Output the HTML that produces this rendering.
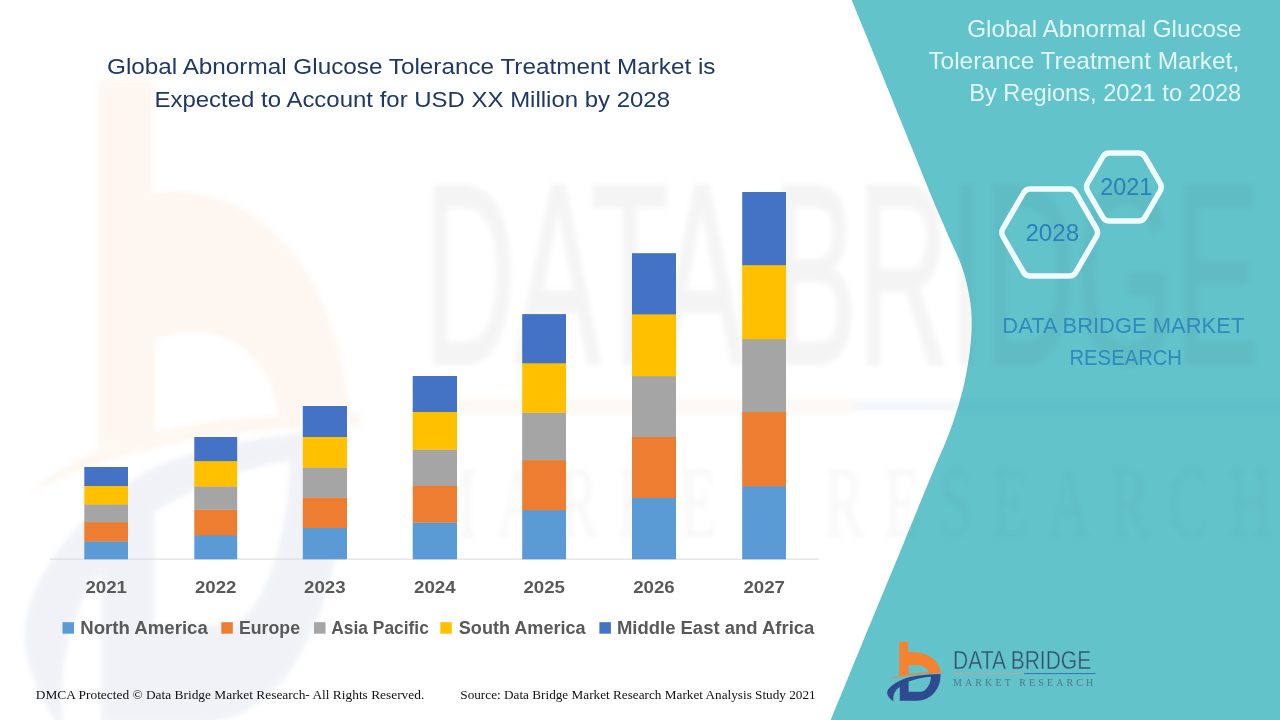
<!DOCTYPE html>
<html lang="en"><head><meta charset="utf-8"><title>Global Abnormal Glucose Tolerance Treatment Market</title>
<style>
html,body{margin:0;padding:0;background:#fff;}
body{width:1280px;height:720px;overflow:hidden;}
svg{display:block;}
text{font-family:"Liberation Sans",sans-serif;}
.ttl{font-size:22.4px;fill:#1f3864;}
.rt{font-size:23.8px;fill:#e3f6f7;}
.yr{font-size:16.6px;font-weight:bold;fill:#595959;}
.lg{font-size:18px;font-weight:bold;fill:#595959;}
.hx{font-size:23.4px;fill:#2b80b9;}
.db{font-size:22.4px;fill:#2f8bbd;}
.lt1{font-size:24.9px;fill:#34506a;}
.lt2{font-family:"Liberation Serif",serif;font-size:9.9px;fill:#4f6878;fill-opacity:.8;}
.wm{fill:#444;}
.ft{font-family:"Liberation Serif",serif;font-size:13.3px;fill:#111;}
</style></head><body>
<svg width="1280" height="720" viewBox="0 0 1280 720">
<defs>
<filter id="bl" x="-5%" y="-5%" width="110%" height="110%"><feGaussianBlur stdDeviation="2.5"/></filter>
</defs>
<rect width="1280" height="720" fill="#ffffff"/>
<!-- teal panel -->
<path d="M851.7,0.0 C854.1,5.8 861.2,23.3 866.0,35.0 C870.8,46.7 875.5,58.3 880.2,70.0 C884.9,81.7 889.7,93.3 894.4,105.0 C899.1,116.7 904.2,129.2 908.6,140.0 C913.0,150.8 916.7,160.0 920.8,170.0 C924.9,180.0 928.5,189.2 933.0,200.0 C937.5,210.8 943.2,223.8 948.0,235.0 C952.8,246.2 958.4,256.7 962.0,267.0 C965.6,277.3 967.9,287.8 969.5,297.0 C971.1,306.2 971.6,313.2 971.7,322.0 C971.8,330.8 971.1,340.3 970.0,350.0 C968.9,359.7 966.7,371.7 965.0,380.0 C963.3,388.3 961.9,393.2 960.0,400.0 C958.1,406.8 955.8,414.3 953.5,421.0 C951.2,427.7 949.6,432.3 946.5,440.0 C943.4,447.7 940.1,454.8 935.0,467.0 C929.9,479.2 921.9,498.7 916.0,513.0 C910.1,527.3 905.1,539.7 899.6,553.0 C894.1,566.3 888.6,579.5 883.0,593.0 C877.4,606.5 871.6,620.5 866.0,634.0 C860.4,647.5 855.5,659.7 849.6,674.0 C843.7,688.3 833.9,712.3 830.8,720.0 L1280,720 L1280,0 Z" fill="#62c3cb"/>
<!-- watermark -->
<g opacity="0.068" filter="url(#bl)">
<g transform="translate(24,78) scale(6.05,10.9) translate(-887,-641.6)">

<path d="M899.3,641.8 L908.1,641.8 L908.1,652.2 C922,651 938,656.5 940.9,672.7 L929.2,673 C928,667 920,663.3 908.6,665.6 L908.6,674.4 L899.3,675.6 Z" fill="#f5822f"/>
<path d="M887.6,679.8 C900,673.6 922,672.2 942.6,672.5 L942.6,673.5 C922,673.5 902,675.4 887.6,679.8 Z" fill="#f5822f"/>
<path d="M893.5,701.6 C889,698 886.5,695 887.3,691.3 C889,686 900,679 911.3,676.7 C921,674.8 931,674.1 940.4,674 C941,682 938,690 931,696 C926,699.6 921,700.7 916.5,700.7 L899.8,700.7 L899.8,687 C895,690 892.5,695 893.5,701.6 Z M908.6,681.4 C916,678.8 924,677.3 931,676.7 C930.5,684 927,690 921.7,691.8 L908.6,691.8 Z" fill="#2f4b8f" fill-rule="evenodd"/>

</g>
</g>
<g opacity="0.05" filter="url(#bl)">
<g transform="translate(24,78) scale(6.05,10.26) translate(-887,-641.6)">

<text class="lt1 wm" x="953.1" y="669.4" textLength="138.1" lengthAdjust="spacingAndGlyphs" stroke="#444" stroke-width="0.45" paint-order="fill stroke">DATA BRIDGE</text>
<rect x="953" y="672.8" width="71" height="1.5" fill="#e08a4a"/>
<rect x="1024" y="673" width="71.6" height="1.1" fill="#3a7ab0"/>
<text class="lt2 wm" x="953.1" y="686.3" textLength="140" lengthAdjust="spacing">MARKET RESEARCH</text>

</g>
</g>
<!-- chart -->
<rect x="50" y="558.6" width="769" height="1" fill="#d9d9d9"/>
<rect x="84.3" y="541.2" width="43.7" height="18.1" fill="#5b9bd5"/>
<rect x="84.3" y="522.0" width="43.7" height="19.5" fill="#ed7d31"/>
<rect x="84.3" y="504.2" width="43.7" height="18.1" fill="#a5a5a5"/>
<rect x="84.3" y="485.7" width="43.7" height="18.8" fill="#ffc000"/>
<rect x="84.3" y="467.0" width="43.7" height="19.0" fill="#4472c4"/>
<text class="yr" x="85.4" y="592.6" textLength="41.5" lengthAdjust="spacingAndGlyphs">2021</text>
<rect x="194.3" y="535.0" width="42.9" height="24.3" fill="#5b9bd5"/>
<rect x="194.3" y="509.5" width="42.9" height="25.8" fill="#ed7d31"/>
<rect x="194.3" y="486.2" width="42.9" height="23.6" fill="#a5a5a5"/>
<rect x="194.3" y="460.8" width="42.9" height="25.7" fill="#ffc000"/>
<rect x="194.3" y="437.0" width="42.9" height="24.1" fill="#4472c4"/>
<text class="yr" x="195.0" y="592.6" textLength="41.5" lengthAdjust="spacingAndGlyphs">2022</text>
<rect x="302.8" y="527.7" width="44.2" height="31.6" fill="#5b9bd5"/>
<rect x="302.8" y="497.3" width="44.2" height="30.7" fill="#ed7d31"/>
<rect x="302.8" y="467.3" width="44.2" height="30.3" fill="#a5a5a5"/>
<rect x="302.8" y="436.7" width="44.2" height="30.9" fill="#ffc000"/>
<rect x="302.8" y="406.0" width="44.2" height="31.0" fill="#4472c4"/>
<text class="yr" x="304.1" y="592.6" textLength="41.5" lengthAdjust="spacingAndGlyphs">2023</text>
<rect x="412.7" y="522.3" width="44.3" height="37.0" fill="#5b9bd5"/>
<rect x="412.7" y="485.7" width="44.3" height="36.9" fill="#ed7d31"/>
<rect x="412.7" y="449.3" width="44.3" height="36.7" fill="#a5a5a5"/>
<rect x="412.7" y="411.7" width="44.3" height="37.9" fill="#ffc000"/>
<rect x="412.7" y="376.0" width="44.3" height="36.0" fill="#4472c4"/>
<text class="yr" x="414.1" y="592.6" textLength="41.5" lengthAdjust="spacingAndGlyphs">2024</text>
<rect x="522.2" y="510.0" width="43.8" height="49.3" fill="#5b9bd5"/>
<rect x="522.2" y="460.0" width="43.8" height="50.3" fill="#ed7d31"/>
<rect x="522.2" y="412.4" width="43.8" height="47.9" fill="#a5a5a5"/>
<rect x="522.2" y="363.0" width="43.8" height="49.7" fill="#ffc000"/>
<rect x="522.2" y="314.1" width="43.8" height="49.2" fill="#4472c4"/>
<text class="yr" x="523.4" y="592.6" textLength="41.5" lengthAdjust="spacingAndGlyphs">2025</text>
<rect x="632.0" y="497.7" width="44.0" height="61.6" fill="#5b9bd5"/>
<rect x="632.0" y="436.7" width="44.0" height="61.3" fill="#ed7d31"/>
<rect x="632.0" y="376.0" width="44.0" height="61.0" fill="#a5a5a5"/>
<rect x="632.0" y="314.1" width="44.0" height="62.2" fill="#ffc000"/>
<rect x="632.0" y="253.2" width="44.0" height="61.2" fill="#4472c4"/>
<text class="yr" x="633.2" y="592.6" textLength="41.5" lengthAdjust="spacingAndGlyphs">2026</text>
<rect x="742.2" y="486.0" width="43.8" height="73.3" fill="#5b9bd5"/>
<rect x="742.2" y="411.8" width="43.8" height="74.5" fill="#ed7d31"/>
<rect x="742.2" y="338.9" width="43.8" height="73.2" fill="#a5a5a5"/>
<rect x="742.2" y="264.9" width="43.8" height="74.3" fill="#ffc000"/>
<rect x="742.2" y="192.0" width="43.8" height="73.2" fill="#4472c4"/>
<text class="yr" x="743.4" y="592.6" textLength="41.5" lengthAdjust="spacingAndGlyphs">2027</text>

<rect x="62.5" y="622.2" width="11.5" height="11.5" fill="#5b9bd5"/><text class="lg" x="80.3" y="633.8" textLength="127.5" lengthAdjust="spacingAndGlyphs">North America</text>
<rect x="221.3" y="622.2" width="11.5" height="11.5" fill="#ed7d31"/><text class="lg" x="239.0" y="633.8" textLength="61.0" lengthAdjust="spacingAndGlyphs">Europe</text>
<rect x="314.0" y="622.2" width="11.5" height="11.5" fill="#a5a5a5"/><text class="lg" x="331.3" y="633.8" textLength="97.5" lengthAdjust="spacingAndGlyphs">Asia Pacific</text>
<rect x="440.3" y="622.2" width="11.5" height="11.5" fill="#ffc000"/><text class="lg" x="458.8" y="633.8" textLength="126.8" lengthAdjust="spacingAndGlyphs">South America</text>
<rect x="599.4" y="622.2" width="11.5" height="11.5" fill="#4472c4"/><text class="lg" x="616.9" y="633.8" textLength="197.5" lengthAdjust="spacingAndGlyphs">Middle East and Africa</text>

<!-- titles -->
<text class="ttl" x="107" y="74.2" textLength="608.5" lengthAdjust="spacingAndGlyphs">Global Abnormal Glucose Tolerance Treatment Market is</text>
<text class="ttl" x="154.5" y="106.6" textLength="515.5" lengthAdjust="spacingAndGlyphs">Expected to Account for USD XX Million by 2028</text>
<text class="rt" x="967.3" y="37.1" textLength="274.2" lengthAdjust="spacingAndGlyphs">Global Abnormal Glucose</text>
<text class="rt" x="928.4" y="68.9" textLength="310.8" lengthAdjust="spacingAndGlyphs">Tolerance Treatment Market,</text>
<text class="rt" x="969.2" y="100.7" textLength="272" lengthAdjust="spacingAndGlyphs">By Regions, 2021 to 2028</text>
<!-- hexagons -->
<path d="M1002.9,236.5 Q1000.7,232.6 1002.9,228.7 L1023.5,193.0 Q1025.7,189.1 1030.2,189.1 L1069.2,189.1 Q1073.7,189.1 1075.9,193.0 L1096.5,228.7 Q1098.7,232.6 1096.5,236.5 L1075.9,272.2 Q1073.7,276.1 1069.2,276.1 L1030.2,276.1 Q1025.7,276.1 1023.5,272.2 Z" fill="none" stroke="#effbfc" stroke-width="5.5" stroke-linejoin="round"/>
<path d="M1087.6,191.0 Q1085.4,187.1 1087.6,183.2 L1102.7,157.0 Q1104.9,153.1 1109.4,153.1 L1138.4,153.1 Q1142.9,153.1 1145.1,157.0 L1160.2,183.2 Q1162.4,187.1 1160.2,191.0 L1145.1,217.2 Q1142.9,221.1 1138.4,221.1 L1109.4,221.1 Q1104.9,221.1 1102.7,217.2 Z" fill="none" stroke="#effbfc" stroke-width="5.5" stroke-linejoin="round"/>
<text class="hx" x="1025.4" y="240.7" textLength="53.8" lengthAdjust="spacingAndGlyphs">2028</text>
<text class="hx" x="1100.3" y="194.9" textLength="52" lengthAdjust="spacingAndGlyphs">2021</text>
<text class="db" x="1002.3" y="333.2" textLength="242" lengthAdjust="spacingAndGlyphs">DATA BRIDGE MARKET</text>
<text class="db" x="1069.5" y="365.3" textLength="112.5" lengthAdjust="spacingAndGlyphs">RESEARCH</text>
<!-- logo -->

<path d="M899.3,641.8 L908.1,641.8 L908.1,652.2 C922,651 938,656.5 940.9,672.7 L929.2,673 C928,667 920,663.3 908.6,665.6 L908.6,674.4 L899.3,675.6 Z" fill="#f5822f"/>
<path d="M887.6,679.8 C900,673.6 922,672.2 942.6,672.5 L942.6,673.5 C922,673.5 902,675.4 887.6,679.8 Z" fill="#f5822f"/>
<path d="M893.5,701.6 C889,698 886.5,695 887.3,691.3 C889,686 900,679 911.3,676.7 C921,674.8 931,674.1 940.4,674 C941,682 938,690 931,696 C926,699.6 921,700.7 916.5,700.7 L899.8,700.7 L899.8,687 C895,690 892.5,695 893.5,701.6 Z M908.6,681.4 C916,678.8 924,677.3 931,676.7 C930.5,684 927,690 921.7,691.8 L908.6,691.8 Z" fill="#2f4b8f" fill-rule="evenodd"/>


<text class="lt1" x="953.1" y="669.4" textLength="138.1" lengthAdjust="spacingAndGlyphs" stroke="#62c3cb" stroke-width="0.4" paint-order="fill stroke">DATA BRIDGE</text>
<rect x="953" y="672.8" width="71" height="1.5" fill="#9fb0ae"/>
<rect x="1024" y="673" width="71.6" height="1.1" fill="#3a7ab0"/>
<text class="lt2" x="953.1" y="686.3" textLength="140" lengthAdjust="spacing">MARKET RESEARCH</text>

<!-- footer -->
<text class="ft" x="35.8" y="698.5" textLength="388.5" lengthAdjust="spacingAndGlyphs">DMCA Protected © Data Bridge Market Research- All Rights Reserved.</text>
<text class="ft" x="460.3" y="698.9" textLength="355.4" lengthAdjust="spacingAndGlyphs">Source: Data Bridge Market Research Market Analysis Study 2021</text>
</svg>
</body></html>
